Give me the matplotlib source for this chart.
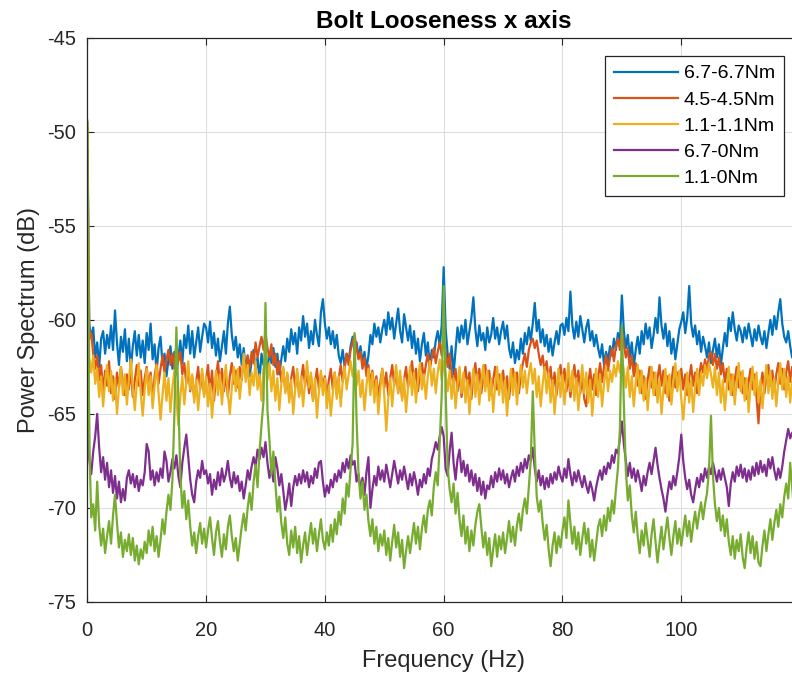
import numpy as np
import matplotlib
matplotlib.use("Agg")
import matplotlib.pyplot as plt

plt.rcParams['font.family'] = ['Liberation Sans', 'DejaVu Sans']
plt.rcParams['axes.unicode_minus'] = False

# Power spectra of the x-axis vibration, sampled every 1/3 Hz from 0 Hz
step_hz = 1.0 / 3.0

labels = ['6.7-6.7Nm', '4.5-4.5Nm', '1.1-1.1Nm', '6.7-0Nm', '1.1-0Nm']
colors = ['#0072BD', '#D95319', '#EDB120', '#7E2F8E', '#77AC30']

spec_67_67 = [
    -49.5, -60.2, -61.0, -60.4, -62.0, -61.2, -62.5, -61.0, -60.6, -61.8, -60.8, -61.5, -60.3, -61.6, -59.5, -61.2, -62.4, -60.9, -61.7, -60.5, -62.2, -61.0, -62.6, -61.4, -60.6, -61.9, -60.8, -62.0, -61.1, -62.3,
    -60.7, -61.6, -60.2, -62.1, -61.3, -62.8, -61.5, -60.9, -62.4, -61.8, -63.0, -62.1, -61.4, -62.6, -61.7, -62.9, -62.0, -61.1, -62.3, -60.8, -61.5, -60.3, -61.8, -60.6, -62.0, -61.2, -60.4, -61.7, -60.9, -60.2,
    -60.4, -61.2, -60.1, -61.5, -60.7, -61.9, -61.0, -62.2, -61.4, -60.6, -61.8, -60.2, -59.3, -60.8, -61.6, -60.9, -62.0, -61.3, -62.4, -61.5, -62.7, -61.9, -63.0, -62.2, -61.6, -62.8, -62.0, -63.2, -61.8, -62.4,
    -62.0, -62.6, -61.7, -62.3, -61.5, -62.5, -61.8, -62.9, -62.1, -61.4, -62.2, -61.0, -61.7, -60.5, -61.3, -60.7, -61.8, -60.4, -61.1, -59.8, -60.9, -60.2, -61.5, -60.6, -61.3, -60.0, -60.8, -61.4, -59.6, -58.9,
    -60.2, -61.0, -60.4, -61.3, -60.6, -61.5, -60.8, -61.9, -62.3, -61.6, -62.5, -61.8, -62.2, -61.4, -60.9, -61.7, -61.2, -62.0, -61.4, -62.3, -61.7, -62.6, -61.9, -60.8, -61.3, -60.2, -60.9, -60.4, -61.2, -60.5,
    -60.0, -60.8, -59.6, -60.5, -59.9, -61.0, -60.2, -59.4, -60.6, -61.2, -59.7, -60.4, -61.1, -60.3, -61.5, -60.6, -61.8, -61.0, -62.2, -61.3, -60.7, -61.9, -61.2, -62.5, -61.6, -62.0, -61.1, -60.6, -61.4, -60.3,
    -57.2, -60.5, -61.8, -62.6, -61.4, -62.9, -61.6, -60.4, -61.2, -60.3, -61.0, -60.0, -61.3, -60.6, -59.9, -58.8, -60.5, -61.4, -60.3, -61.1, -60.7, -61.6, -60.4, -61.2, -60.8, -59.9, -61.0, -60.4, -61.3, -60.6,
    -60.1, -61.0, -60.3, -61.5, -62.0, -61.2, -62.3, -61.6, -62.1, -61.0, -61.8, -60.7, -61.3, -60.4, -61.1, -60.2, -59.1, -60.6, -60.0, -61.2, -60.5, -61.4, -60.8, -61.7, -61.0, -61.9, -61.2, -60.6, -61.3, -60.3,
    -60.2, -60.8, -59.9, -60.6, -58.5, -60.3, -61.0, -60.1, -60.9, -59.8, -60.5, -61.2, -60.4, -60.0, -61.1, -60.6, -61.4, -60.8, -61.5, -62.0, -61.3, -62.4, -61.7, -62.2, -61.4, -61.9, -61.0, -61.6, -60.7, -61.2,
    -58.7, -60.6, -61.5, -60.8, -62.0, -61.2, -62.5, -61.6, -60.9, -61.8, -60.6, -61.3, -60.2, -61.0, -60.4, -61.5, -60.8, -59.9, -60.7, -58.8, -60.3, -61.0, -60.2, -61.4, -60.6, -61.8, -61.0, -62.1, -61.3, -60.5,
    -60.1, -59.6, -60.7, -59.9, -58.2, -60.2, -60.9, -60.3, -61.3, -60.6, -61.7, -60.9, -61.4, -62.0, -61.2, -62.3, -61.6, -61.0, -62.0, -61.3, -62.4, -61.5, -60.7, -61.4, -59.9, -60.6, -59.6, -60.5, -61.1, -60.3,
    -60.6, -61.2, -60.4, -61.0, -60.2, -60.8, -61.4, -60.5, -61.1, -60.3, -60.9, -61.3, -60.6, -61.5, -60.7, -60.0, -60.8, -59.8, -60.5, -59.6, -58.9, -60.2, -60.9, -61.2, -60.6, -61.4, -62.0, -61.5, -62.2, -61.8,
]

spec_45_45 = [
    -49.8, -61.0, -60.7, -61.8, -62.6, -61.9, -63.2, -62.4, -63.8, -62.7, -63.5, -62.2, -63.9, -63.0, -64.2, -62.8, -63.6, -62.5, -63.3, -64.0, -62.9, -63.7, -62.6, -64.1, -63.2, -62.4, -63.5, -62.7, -64.0, -63.1,
    -62.5, -63.6, -62.8, -64.3, -63.0, -62.3, -63.4, -62.6, -61.9, -62.8, -62.1, -61.6, -62.4, -61.8, -62.6, -61.3, -62.2, -61.7, -62.9, -62.3, -63.4, -62.6, -63.8, -63.0, -64.2, -63.3, -62.5, -63.7, -62.8, -64.0,
    -63.2, -62.4, -63.9, -62.7, -64.3, -63.1, -62.2, -63.5, -62.6, -63.8, -62.9, -64.1, -63.0, -62.3, -63.4, -62.7, -63.6, -62.5, -63.2, -62.1, -62.8, -61.9, -62.6, -61.7, -62.3, -61.2, -62.0, -61.4, -60.9, -61.6,
    -60.7, -61.5, -62.0, -61.3, -62.4, -61.8, -62.9, -62.2, -63.3, -62.6, -63.8, -62.9, -64.2, -63.1, -62.5, -63.6, -62.8, -64.0, -63.2, -62.4, -63.5, -62.7, -63.9, -63.0, -64.3, -63.4, -62.6, -63.7, -62.9, -63.5,
    -63.0, -64.1, -63.2, -62.6, -63.7, -62.8, -64.0, -63.1, -62.4, -63.3, -62.5, -61.8, -62.4, -61.6, -61.2, -60.8, -61.5, -62.1, -61.7, -62.6, -62.0, -63.0, -62.4, -63.4, -62.7, -63.8, -63.0, -64.1, -63.3, -62.6,
    -63.6, -62.8, -64.0, -63.1, -62.4, -63.5, -62.7, -63.9, -63.0, -64.2, -63.2, -62.5, -63.6, -62.9, -62.2, -63.3, -62.6, -63.8, -62.9, -62.3, -63.1, -62.4, -61.8, -62.6, -62.0, -61.5, -62.3, -61.7, -61.2, -61.9,
    -60.9, -61.7, -62.5, -61.8, -62.9, -63.4, -62.6, -63.8, -62.9, -64.1, -63.3, -62.5, -63.6, -62.8, -64.2, -63.0, -62.3, -63.4, -62.6, -63.9, -63.1, -62.4, -63.5, -62.7, -64.0, -63.2, -62.5, -63.7, -62.9, -63.4,
    -62.7, -63.8, -63.0, -64.2, -63.2, -62.6, -63.5, -62.8, -63.9, -62.9, -62.3, -61.8, -62.5, -61.6, -61.2, -61.0, -61.5, -61.1, -61.8, -62.4, -61.9, -62.8, -62.2, -63.3, -62.5, -63.7, -62.8, -64.0, -63.1, -62.4,
    -63.5, -62.6, -63.8, -62.9, -64.1, -63.2, -62.4, -63.5, -62.7, -63.9, -63.0, -64.2, -64.6, -63.4, -62.6, -63.7, -62.9, -64.0, -63.1, -62.3, -63.3, -62.5, -61.9, -62.7, -62.0, -61.5, -62.2, -61.4, -61.0, -61.6,
    -60.6, -61.3, -62.0, -61.5, -62.6, -61.9, -63.0, -62.3, -63.5, -62.7, -63.9, -63.0, -64.2, -63.2, -62.5, -63.6, -62.8, -64.0, -63.1, -62.4, -63.5, -62.7, -63.9, -63.0, -64.3, -63.3, -62.5, -63.6, -62.8, -63.2,
    -62.6, -63.7, -62.9, -64.0, -63.1, -62.4, -63.5, -62.8, -63.9, -63.0, -62.3, -62.8, -62.1, -62.7, -61.9, -61.7, -62.4, -61.8, -62.6, -62.0, -62.9, -62.3, -63.3, -62.6, -63.7, -62.9, -64.0, -63.2, -62.5, -63.6,
    -62.8, -63.9, -63.1, -64.2, -63.3, -62.6, -63.7, -62.9, -64.1, -65.5, -63.6, -62.8, -63.9, -63.0, -62.4, -63.5, -62.7, -63.8, -62.9, -62.3, -63.4, -62.6, -63.7, -62.8, -62.2, -63.3, -62.5, -63.1, -62.4, -62.9,
]

spec_11_11 = [
    -49.6, -62.0, -62.8, -61.9, -63.4, -62.6, -64.1, -63.0, -64.6, -63.3, -62.4, -63.8, -62.7, -64.3, -63.1, -65.0, -63.6, -62.5, -64.0, -62.9, -64.5, -63.2, -62.1, -63.6, -64.8, -63.4, -62.3, -63.9, -65.1, -63.7,
    -62.6, -64.0, -63.0, -64.7, -63.5, -62.4, -63.9, -65.3, -64.0, -62.8, -64.3, -63.1, -64.9, -63.6, -62.7, -64.2, -65.6, -64.1, -63.0, -64.5, -63.3, -62.2, -63.7, -62.9, -64.4, -63.2, -64.8, -63.5, -62.6, -64.1,
    -63.0, -64.6, -63.4, -65.2, -63.8, -62.7, -64.0, -62.9, -64.5, -63.3, -62.4, -63.9, -65.0, -63.6, -62.5, -63.8, -62.6, -64.2, -63.1, -61.8, -63.3, -62.4, -64.0, -62.8, -63.5, -62.2, -63.7, -62.9, -64.3, -62.6,
    -61.9, -63.2, -62.3, -63.8, -62.7, -64.3, -63.1, -64.8, -63.4, -62.5, -63.9, -62.8, -64.4, -63.2, -65.0, -63.7, -62.6, -64.1, -63.0, -64.6, -63.3, -62.2, -63.6, -62.8, -64.3, -63.1, -65.2, -63.8, -62.7, -64.0,
    -63.1, -64.7, -63.5, -65.1, -63.9, -62.8, -64.2, -63.0, -64.6, -63.3, -62.5, -63.7, -62.9, -62.2, -63.0, -62.4, -63.5, -62.7, -64.1, -63.2, -64.8, -63.5, -62.6, -64.0, -62.8, -64.4, -63.2, -65.0, -63.7, -62.6,
    -64.0, -65.9, -64.2, -63.1, -64.6, -63.3, -62.4, -63.9, -62.7, -64.3, -63.1, -64.9, -63.6, -62.5, -64.0, -62.8, -64.4, -63.2, -62.3, -63.7, -62.9, -64.2, -63.0, -62.2, -63.5, -62.6, -63.9, -62.8, -62.1, -63.2,
    -62.2, -62.9, -63.8, -62.7, -64.2, -63.1, -64.7, -63.4, -62.5, -63.9, -62.8, -64.4, -63.2, -65.0, -63.6, -62.6, -64.1, -62.9, -64.5, -63.3, -62.4, -63.8, -62.7, -64.3, -63.1, -64.9, -63.5, -62.5, -64.0, -62.9,
    -64.4, -63.2, -65.1, -63.7, -62.6, -64.0, -62.8, -64.5, -63.3, -62.4, -63.6, -62.7, -63.9, -62.9, -62.3, -63.4, -62.6, -64.1, -63.0, -64.6, -63.4, -62.5, -63.9, -62.8, -64.4, -63.2, -65.0, -63.6, -62.6, -64.1,
    -62.9, -64.5, -63.3, -62.3, -63.8, -62.7, -64.3, -63.1, -64.8, -63.5, -62.4, -63.9, -62.8, -64.4, -63.2, -65.1, -63.7, -62.6, -64.1, -62.9, -64.6, -63.4, -62.5, -63.8, -62.7, -63.3, -62.4, -63.0, -62.2, -62.8,
    -62.0, -62.7, -63.6, -62.5, -64.1, -63.0, -64.6, -63.3, -62.4, -63.9, -62.7, -64.3, -63.1, -64.8, -63.5, -62.5, -64.0, -62.8, -64.4, -63.2, -65.0, -63.7, -62.6, -64.1, -62.9, -64.5, -63.3, -62.3, -63.8, -62.7,
    -64.2, -65.3, -63.9, -62.8, -64.4, -63.2, -64.9, -63.6, -62.6, -64.0, -62.8, -63.5, -62.4, -63.1, -62.3, -62.9, -63.6, -62.5, -64.0, -62.8, -64.4, -63.2, -64.8, -63.5, -62.5, -64.0, -62.9, -64.5, -63.3, -62.3,
    -63.8, -62.7, -64.3, -63.1, -64.9, -63.5, -62.5, -64.0, -62.8, -64.4, -63.2, -64.7, -63.4, -62.4, -63.9, -62.7, -64.2, -63.1, -64.6, -63.3, -62.3, -63.7, -62.6, -64.1, -63.0, -64.4, -63.2, -62.5, -63.6, -62.8,
]

spec_67_0 = [
    -51.0, -67.4, -68.2, -67.0, -66.2, -65.0, -66.8, -68.1, -67.3, -68.5, -67.6, -68.9, -68.0, -69.2, -68.3, -69.5, -68.6, -69.7, -69.0, -69.6, -68.4, -68.0, -68.7, -68.2, -68.9, -68.3, -69.1, -68.5, -68.8, -68.1,
    -66.6, -67.0, -68.5, -68.0, -68.8, -68.1, -68.6, -67.9, -68.4, -67.0, -67.5, -68.6, -68.1, -67.4, -67.9, -67.2, -68.3, -68.9, -67.6, -66.8, -66.1, -67.3, -68.5, -69.3, -69.7, -68.6, -68.0, -68.4, -67.5, -68.2,
    -68.0, -68.7, -68.2, -69.3, -68.5, -69.0, -68.1, -68.8, -67.9, -68.6, -68.2, -67.5, -68.4, -68.9, -68.1, -68.7, -68.3, -69.1, -68.6, -69.5, -68.8, -68.0, -68.5, -67.8, -67.3, -67.8, -66.9, -67.4, -66.8, -67.3,
    -66.5, -67.6, -68.4, -67.8, -68.6, -67.3, -67.9, -68.8, -68.2, -69.1, -70.1, -69.5, -68.7, -69.9, -68.9, -68.3, -68.8, -68.2, -68.7, -68.0, -68.6, -68.1, -68.9, -68.3, -68.7, -67.9, -68.4, -67.6, -67.5, -68.6,
    -69.4, -68.8, -69.2, -68.5, -68.9, -68.2, -68.6, -68.0, -68.4, -67.6, -68.1, -67.4, -67.9, -67.2, -67.7, -67.5, -68.6, -68.2, -69.0, -68.4, -69.3, -68.1, -67.3, -70.0, -69.0, -68.3, -68.8, -67.8, -68.5, -68.0,
    -68.6, -67.7, -68.3, -68.9, -68.2, -67.5, -68.1, -68.7, -68.0, -68.5, -67.8, -68.4, -69.0, -68.2, -68.8, -68.1, -68.6, -69.3, -68.5, -68.9, -68.2, -68.7, -67.9, -68.3, -67.4, -67.0, -66.5, -66.9, -66.2, -65.7,
    -66.2, -67.9, -68.3, -67.0, -66.0, -67.6, -68.5, -67.4, -66.9, -68.1, -67.5, -68.3, -67.7, -68.6, -68.0, -68.8, -68.2, -69.1, -68.4, -69.3, -68.6, -69.5, -68.8, -69.0, -68.3, -68.9, -68.1, -68.6, -67.9, -68.5,
    -68.0, -68.7, -68.2, -68.9, -68.4, -68.0, -68.6, -67.8, -68.3, -67.6, -68.1, -67.4, -67.9, -67.2, -67.5, -66.8, -67.9, -68.6, -68.0, -68.8, -68.3, -69.0, -68.4, -68.9, -68.2, -68.7, -68.1, -68.5, -67.8, -68.3,
    -68.6, -67.9, -68.4, -67.4, -68.2, -68.8, -68.1, -68.6, -68.0, -68.5, -68.9, -68.3, -68.8, -69.2, -68.6, -69.0, -69.6, -68.9, -68.4, -68.0, -68.5, -67.8, -68.2, -67.6, -67.9, -67.2, -67.6, -66.9, -67.1, -66.3,
    -65.4, -66.6, -67.5, -68.3, -67.6, -68.4, -67.9, -68.6, -68.0, -68.5, -69.1, -68.3, -68.8, -68.1, -67.6, -68.2, -67.5, -66.8, -67.7, -68.4, -69.0, -69.5, -70.2, -69.3, -68.6, -69.0, -68.3, -68.8, -68.1, -67.3,
    -66.1, -67.5, -68.4, -69.0, -68.5, -69.3, -69.7, -69.0, -68.4, -68.9, -68.2, -68.6, -67.9, -68.4, -67.8, -68.2, -67.6, -68.1, -68.6, -68.0, -68.5, -67.9, -68.4, -68.9, -69.9, -68.7, -68.1, -68.6, -67.8, -68.3,
    -67.7, -68.4, -67.9, -68.6, -68.0, -68.5, -67.8, -68.3, -67.6, -68.2, -67.5, -68.1, -67.7, -68.3, -67.4, -67.9, -67.3, -68.0, -68.5, -67.9, -68.4, -67.8, -67.0, -66.4, -65.8, -66.3, -66.0, -66.5, -66.2, -66.6,
]

spec_11_0 = [
    -49.4, -66.5, -70.5, -69.8, -71.2, -68.6, -70.9, -72.0, -71.1, -72.4, -71.5, -70.7, -71.9, -70.4, -69.3, -70.8, -72.1, -71.3, -72.6, -71.7, -72.3, -71.4, -72.5, -71.6, -72.8, -72.0, -73.0, -72.2, -72.7, -71.8,
    -72.4, -71.2, -72.0, -71.0, -72.3, -71.5, -72.6, -71.7, -70.6, -71.4, -70.2, -69.3, -70.1, -68.5, -65.0, -60.4, -64.2, -68.3, -70.0, -69.1, -70.6, -69.6, -71.0, -72.0, -71.3, -72.4, -71.5, -70.8, -71.9, -71.1,
    -72.1, -71.2, -70.5, -71.6, -72.5, -71.3, -70.7, -71.8, -72.6, -71.4, -72.2, -71.0, -70.4, -71.5, -72.3, -71.6, -72.8, -71.9, -71.0, -70.3, -71.2, -70.0, -69.2, -70.1, -68.6, -67.7, -68.9, -67.0, -65.6, -64.3,
    -59.1, -64.8, -66.4, -68.2, -67.0, -68.7, -70.2, -69.4, -70.8, -71.6, -70.5, -71.9, -72.5, -71.2, -72.1, -71.0, -72.4, -71.5, -72.9, -72.0, -71.3, -72.5, -71.6, -70.8, -71.9, -71.1, -72.3, -71.4, -70.6, -71.7,
    -72.2, -71.3, -72.0, -70.9, -71.8, -70.6, -71.4, -70.2, -70.9, -69.5, -70.3, -68.7, -69.4, -67.9, -66.6, -60.7, -65.3, -68.2, -69.5, -68.6, -70.1, -69.3, -70.7, -71.5, -70.6, -71.9, -71.0, -72.3, -71.4, -72.0,
    -71.2, -72.5, -71.6, -72.8, -71.8, -70.9, -72.1, -71.3, -72.6, -71.7, -73.2, -72.3, -71.5, -72.4, -71.6, -70.8, -71.9, -71.0, -72.2, -71.1, -70.4, -71.3, -70.1, -69.6, -70.4, -68.9, -68.1, -68.8, -66.5, -64.0,
    -58.2, -63.8, -67.8, -69.0, -69.7, -68.7, -70.3, -69.2, -70.6, -71.5, -70.4, -71.9, -71.0, -72.3, -71.2, -72.0, -70.9, -70.2, -69.8, -71.0, -72.1, -71.3, -72.5, -71.6, -73.1, -72.2, -71.4, -72.6, -71.5, -72.2,
    -71.3, -72.4, -71.6, -70.7, -71.8, -71.0, -72.0, -70.9, -70.3, -71.2, -70.1, -69.5, -70.3, -68.9, -67.4, -63.8, -67.0, -69.4, -70.2, -69.6, -70.8, -71.7, -70.9, -72.2, -73.1, -72.0, -71.3, -72.4, -71.5, -72.1,
    -71.2, -70.5, -71.6, -69.6, -70.8, -71.9, -71.0, -72.2, -71.3, -72.5, -71.6, -70.8, -71.9, -71.1, -72.6, -71.7, -72.8, -71.9, -71.0, -70.6, -71.5, -70.4, -71.2, -70.0, -70.7, -69.6, -70.3, -69.0, -67.9, -65.8,
    -60.3, -64.5, -68.0, -69.6, -68.8, -70.4, -71.3, -70.2, -71.5, -72.4, -71.2, -72.0, -70.8, -71.7, -72.6, -71.4, -70.6, -71.8, -72.9, -71.9, -71.0, -72.2, -71.3, -70.5, -71.6, -72.5, -71.5, -70.7, -71.9, -71.1,
    -72.0, -71.2, -70.4, -71.5, -70.7, -71.8, -70.9, -70.2, -71.1, -70.3, -69.7, -70.6, -69.8, -69.2, -68.0, -65.1, -68.3, -69.8, -70.7, -70.0, -71.2, -70.4, -71.5, -70.6, -71.8, -72.5, -71.5, -72.7, -71.7, -72.3,
    -71.4, -72.6, -73.2, -72.1, -71.3, -72.4, -71.5, -72.7, -71.8, -72.9, -73.1, -72.0, -71.2, -72.3, -71.4, -70.6, -71.7, -70.8, -70.1, -71.0, -69.8, -70.5, -69.4, -68.7, -69.5, -67.6, -68.9, -70.2, -69.3, -70.4,
]

series = [spec_67_67, spec_45_45, spec_11_11, spec_67_0, spec_11_0]

x_ticks = [0, 20, 40, 60, 80, 100]
y_ticks = [-75, -70, -65, -60, -55, -50, -45]

ink = '#262626'

fig = plt.figure(figsize=(7.92, 6.77), dpi=100)
ax = fig.add_axes([0.1102, 0.1108, 0.9000, 0.8335])

for vals, lab, col in zip(series, labels, colors):
    vals = np.asarray(vals)
    freq = np.arange(len(vals)) * step_hz
    ax.plot(freq, vals, color=col, lw=1.6, label=lab)

ax.set_xlim(0, 120)
ax.set_ylim(-75, -45)
ax.set_xticks(x_ticks)
ax.set_yticks(y_ticks)
ax.grid(True, color='#dedede', lw=0.8)
ax.set_axisbelow(True)
ax.tick_params(direction='in', top=True, right=True, length=5, width=0.8,
               colors=ink, labelsize=14.5)
ax.tick_params(axis='x', pad=14)
ax.tick_params(axis='y', pad=8)
for sp in ax.spines.values():
    sp.set_color(ink)
    sp.set_linewidth(0.9)

ax.set_title('Bolt Looseness x axis', fontsize=17.5, fontweight='bold', color='black', pad=7)
ax.set_xlabel('Frequency (Hz)', fontsize=17, color=ink, labelpad=7)
ax.set_ylabel('Power Spectrum (dB)', fontsize=17, color=ink, labelpad=5)

leg = ax.legend(loc='upper left', bbox_to_anchor=(0.7264, 0.9676), fontsize=14,
                frameon=True, fancybox=False, framealpha=1, edgecolor=ink,
                handlelength=3.3, handletextpad=0.3, labelspacing=0.44,
                borderpad=0.45, borderaxespad=0)
leg.get_frame().set_linewidth(0.9)

fig.savefig('out.png', dpi=100)
